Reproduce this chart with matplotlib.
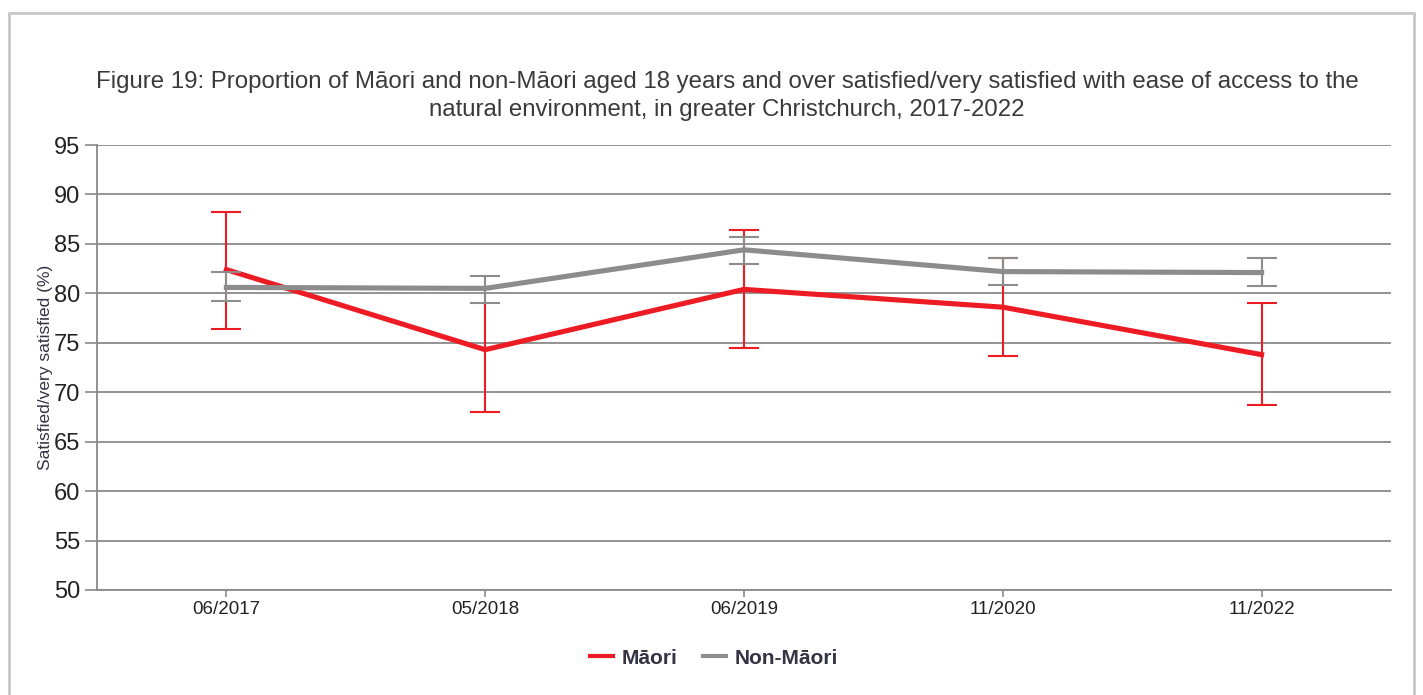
import matplotlib.pyplot as plt
from matplotlib.patches import Rectangle
import numpy as np

plt.rcParams['font.family'] = ['Liberation Sans', 'DejaVu Sans']

dates = ['06/2017', '05/2018', '06/2019', '11/2020', '11/2022']

maori = [82.4, 74.3, 80.4, 78.6, 73.8]
maori_low = [76.4, 68.0, 74.5, 73.7, 68.7]
maori_high = [88.2, 80.6, 86.4, 83.6, 79.0]

non_maori = [80.6, 80.5, 84.4, 82.2, 82.1]
non_maori_low = [79.2, 79.0, 83.0, 80.8, 80.7]
non_maori_high = [82.2, 81.8, 85.7, 83.6, 83.6]

RED = '#ed1c24'
GREY = '#8c8c8c'
GRID = '#8a8a8a'

fig = plt.figure(figsize=(14.23, 6.95), dpi=100)
W, H = 1423, 695
ax = fig.add_axes([97 / W, 1 - 590 / H, (1391 - 97) / W, (590 - 145) / H])

# outer frame
fig.patches.append(Rectangle((9 / W, -0.1), (1414 - 9) / W, 1.1 - 13 / H,
                             transform=fig.transFigure, fill=False,
                             edgecolor='#c8c8c8', linewidth=2))

x = np.arange(len(dates))

def draw(vals, low, high, color, z):
    vals = np.array(vals)
    err = [vals - np.array(low), np.array(high) - vals]
    ax.plot(x, vals, color=color, linewidth=3.7, zorder=z, solid_joinstyle='miter')
    ax.errorbar(x, vals, yerr=err, fmt='none', ecolor=color, elinewidth=1.5,
                capsize=11, capthick=1.5, zorder=z + 1)

draw(maori, maori_low, maori_high, RED, 3)
draw(non_maori, non_maori_low, non_maori_high, GREY, 5)

ax.set_xlim(-0.5, 4.5)
ax.set_ylim(50, 95)
ax.set_yticks(range(50, 96, 5))
ax.set_xticks(x)
ax.set_xticklabels(dates, fontsize=13.5, color='#222222')
ax.tick_params(axis='y', labelsize=17, colors='#222222', length=9, width=1.2,
               color=GRID, pad=3)
ax.tick_params(axis='x', length=5, width=1.2, color=GRID, pad=3)
ax.grid(axis='y', color=GRID, linewidth=1.3)
ax.set_axisbelow(True)
for s in ['top', 'right']:
    ax.spines[s].set_visible(False)
for s in ['left', 'bottom']:
    ax.spines[s].set_color(GRID)
    ax.spines[s].set_linewidth(1.3)

ax.set_ylabel('Satisfied/very satisfied (%)', fontsize=12.5, color='#333344', labelpad=1)

fig.text(727 / W, 1 - 96 / H,
         'Figure 19: Proportion of Māori and non-Māori aged 18 years and over satisfied/very satisfied with ease of access to the\n'
         'natural environment, in greater Christchurch, 2017-2022',
         ha='center', va='center', fontsize=17.3, color='#3a3a3a', linespacing=1.4)

h1, = ax.plot([], [], color=RED, linewidth=3)
h2, = ax.plot([], [], color=GREY, linewidth=3)
fig.legend([h1, h2], ['Māori', 'Non-Māori'], loc='center', bbox_to_anchor=(714 / W, 1 - 658 / H),
           ncol=2, frameon=False, handlelength=1.1, handletextpad=0.45, columnspacing=1.2,
           prop={'size': 15, 'weight': 'bold'}, labelcolor='#333344')

plt.savefig('out.png', dpi=100)
